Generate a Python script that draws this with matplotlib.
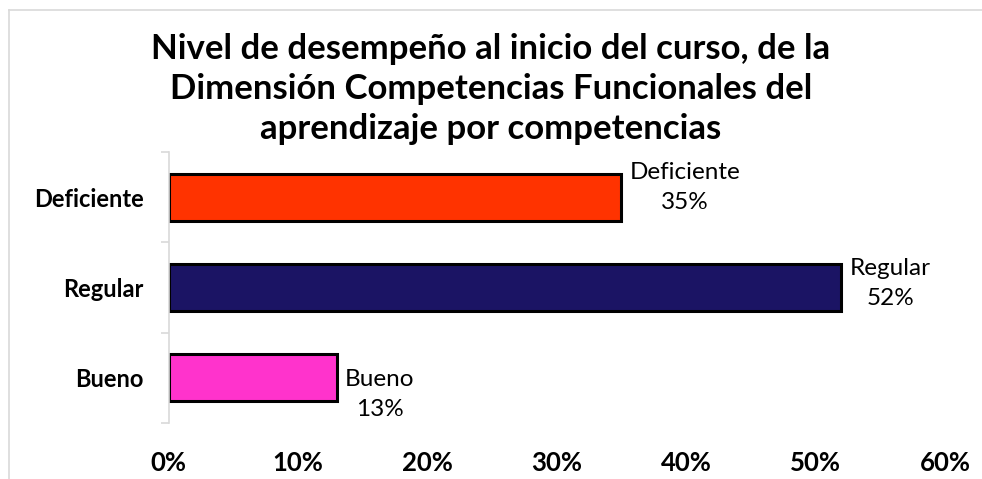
import matplotlib
matplotlib.use('agg')
import matplotlib.pyplot as plt
from matplotlib.lines import Line2D

# data
categories = ['Deficiente', 'Regular', 'Bueno']
values = [35, 52, 13]
colors = ['#FF3300', '#1B1464', '#FF33CC']
label_dy = [7, 3, -12]   # vertical nudge of the data labels, points

title = ('Nivel de desempeño al inicio del curso, de la\n'
         'Dimensión Competencias Funcionales del\n'
         'aprendizaje por competencias')

plt.rcParams['font.family'] = ['Lato', 'DejaVu Sans']

fig = plt.figure(figsize=(9.82, 4.79), dpi=100)
ax = fig.add_axes([0.1716, 0.1169, 0.7907, 0.5658])

y_pos = list(range(len(categories)))
ax.barh(y_pos, values, height=0.52, color=colors, edgecolor='black', linewidth=2.2)
ax.set_ylim(len(categories) - 0.5, -0.5)
ax.set_xlim(0, 60)

ax.set_yticks([i - 0.5 for i in range(len(categories) + 1)], minor=False)
ax.set_yticklabels([])
ax.set_yticks(y_pos, minor=True)
ax.set_yticklabels(categories, minor=True, fontsize=17, fontweight='bold')
ax.tick_params(axis='y', which='minor', length=0, pad=18)
ax.tick_params(axis='y', which='major', length=6, color='#D9D9D9', width=1.2)

ax.set_xticks(range(0, 61, 10))
ax.set_xticklabels(['%d%%' % v for v in range(0, 61, 10)], fontsize=18.5, fontweight='bold')
ax.tick_params(axis='x', length=0, pad=20)

for s in ['top', 'right', 'bottom']:
    ax.spines[s].set_visible(False)
ax.spines['left'].set_color('#D9D9D9')
ax.spines['left'].set_linewidth(1.2)

for i, (c, v) in enumerate(zip(categories, values)):
    ax.annotate('%s\n%d%%' % (c, v), xy=(v, i), xytext=(6, label_dy[i]),
                textcoords='offset points', ha='left', va='center',
                multialignment='center', fontsize=17.5, linespacing=1.5)

fig.text(0.5, 0.814, title, ha='center', va='center', fontsize=25,
         fontweight='bold', linespacing=1.32)

# light chart frame, partly cut off by the image edge
fig.add_artist(Line2D([9 / 982, 1], [1 - 10 / 479, 1 - 10 / 479],
                      transform=fig.transFigure, color='#D9D9D9', lw=1.2))
fig.add_artist(Line2D([9 / 982, 9 / 982], [0, 1 - 10 / 479],
                      transform=fig.transFigure, color='#D9D9D9', lw=1.2))

fig.savefig('out.png', dpi=100)
